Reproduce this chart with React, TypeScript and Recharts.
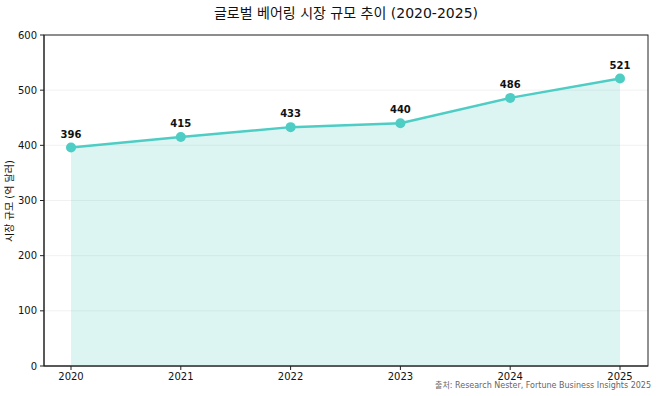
import React from "react";
import { ComposedChart, Area, XAxis, YAxis, CartesianGrid, LabelList, usePlotArea } from "recharts";

const years = ["2020", "2021", "2022", "2023", "2024", "2025"];
const marketSize = [396, 415, 433, 440, 486, 521];
const yTicks = [0, 100, 200, 300, 400, 500, 600];

const data = years.map((y, i) => ({ year: y, value: marketSize[i] }));

const FONT = "'DejaVu Sans', 'Noto Sans CJK KR', sans-serif";
const TEAL = "#4ecdc4";

function Frame() {
  const area = usePlotArea ? usePlotArea() : undefined;
  if (!area) return null;
  return (
    <rect x={area.x} y={area.y} width={area.width} height={area.height} fill="none" stroke="#222" strokeWidth={1} />
  );
}

export default function App() {
  return (
    <div style={{ position: "absolute", left: 0, top: 0, width: 658, height: 396, background: "#fff", fontFamily: FONT }}>
      <ComposedChart
        width={658}
        height={396}
        data={data}
        margin={{ top: 35, right: 10, bottom: 0, left: 0 }}
      >
        <text x={346} y={18} textAnchor="middle" fontSize={14} fill="#111" fontFamily={FONT}>
          글로벌 베어링 시장 규모 추이 (2020-2025)
        </text>
        <text
          x={13}
          y={201}
          textAnchor="middle"
          fontSize={10}
          fill="#111"
          fontFamily={FONT}
          transform="rotate(-90 13 201)"
        >
          시장 규모 (억 달러)
        </text>
        <text x={651} y={388} textAnchor="end" fontSize={8} fill="#666" fontFamily={FONT}>
          출처: Research Nester, Fortune Business Insights 2025
        </text>
        <CartesianGrid vertical={false} stroke="#eeeeee" strokeOpacity={0.8} />
        <XAxis
          dataKey="year"
          padding={{ left: 27, right: 28 }}
          height={30}
          tick={{ fontSize: 10, fill: "#111", fontFamily: FONT }}
          tickLine={{ stroke: "#222" }}
          axisLine={{ stroke: "#222" }}
          tickSize={4}
          tickMargin={3}
        />
        <YAxis
          domain={[0, 600]}
          ticks={yTicks}
          width={44}
          tick={{ fontSize: 10, fill: "#111", fontFamily: FONT }}
          tickLine={{ stroke: "#222" }}
          axisLine={{ stroke: "#222" }}
          tickSize={4}
          tickMargin={3}
        />
        <Area
          type="linear"
          dataKey="value"
          stroke={TEAL}
          strokeWidth={2.5}
          fill={TEAL}
          fillOpacity={0.2}
          dot={{ r: 5, fill: TEAL, stroke: TEAL, strokeWidth: 0, fillOpacity: 1 }}
          activeDot={false}
          isAnimationActive={false}
        >
          <LabelList
            dataKey="value"
            position="top"
            offset={10}
            style={{ fontSize: 10, fontWeight: "bold", fill: "#111", fontFamily: FONT }}
          />
        </Area>
        <Frame />
      </ComposedChart>
    </div>
  );
}
